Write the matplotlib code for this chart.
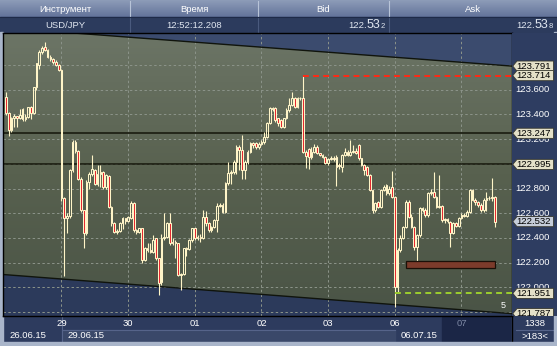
import matplotlib
matplotlib.use('Agg')
import matplotlib.pyplot as plt
import numpy as np
from matplotlib.patches import Polygon, Rectangle
from matplotlib.colors import LinearSegmentedColormap
import matplotlib.transforms as mtransforms

plt.rcParams['font.family'] = ['Liberation Sans', 'DejaVu Sans']

# ---------------- data (hourly USD/JPY bars) ----------------
opens = [123.544, 123.409, 123.274, 123.368, 123.385, 123.370, 123.440, 123.360, 123.382, 123.457,
         123.409, 123.619, 123.800, 123.908, 123.948, 123.921, 123.867, 123.850, 123.825, 123.800,
         123.760, 122.720, 122.560, 122.580, 122.950, 123.179, 123.100, 122.880, 122.626, 122.437,
         122.855, 122.920, 122.950, 122.840, 122.920, 122.930, 122.815, 122.900, 122.653, 122.518,
         122.450, 122.460, 122.518, 122.558, 122.540, 122.560, 122.680, 122.464, 122.450, 122.477,
         122.221, 122.316, 122.300, 122.290, 122.396, 122.235, 122.040, 122.400, 122.410, 122.518,
         122.356, 122.370, 122.356, 122.100, 122.110, 122.316, 122.310, 122.383, 122.477, 122.396,
         122.410, 122.400, 122.572, 122.518, 122.464, 122.491, 122.545, 122.660, 122.670, 122.612,
         122.842, 122.923, 122.936, 123.017, 123.139, 123.112, 122.950, 123.017, 123.098, 123.166,
         123.170, 123.140, 123.160, 123.180, 123.220, 123.328, 123.449, 123.449, 123.368, 123.355,
         123.300, 123.368, 123.436, 123.476, 123.530, 123.463, 123.530, 123.530, 123.098, 123.120,
         123.058, 123.098, 123.139, 123.085, 123.070, 123.058, 123.004, 123.040, 123.050, 123.058,
         122.990, 122.977, 123.070, 123.098, 123.070, 123.098, 123.100, 123.152, 123.044, 122.990,
         122.977, 122.909, 122.788, 122.626, 122.690, 122.653, 122.788, 122.830, 122.761, 122.815,
         122.734, 122.005, 122.302, 122.400, 122.490, 122.693, 122.572, 122.491, 122.329, 122.423,
         122.639, 122.626, 122.585, 122.761, 122.774, 122.734, 122.653, 122.660, 122.545, 122.550,
         122.532, 122.437, 122.518, 122.500, 122.558, 122.585, 122.580, 122.612, 122.788, 122.707,
         122.693, 122.666, 122.626, 122.707, 122.720, 122.720, 122.730]
highs = [123.584, 123.420, 123.380, 123.400, 123.390, 123.440, 123.450, 123.400, 123.460, 123.470,
         123.620, 123.820, 123.920, 123.950, 123.984, 123.930, 123.880, 123.860, 123.840, 123.810,
         123.770, 122.730, 122.600, 122.960, 123.190, 123.190, 123.110, 122.890, 122.630, 122.870,
         122.930, 123.070, 122.960, 122.990, 122.990, 122.940, 122.920, 122.910, 122.660, 122.530,
         122.470, 122.530, 122.570, 122.560, 122.580, 122.700, 122.690, 122.470, 122.480, 122.480,
         122.330, 122.360, 122.360, 122.420, 122.400, 122.240, 122.430, 122.600, 122.530, 122.600,
         122.400, 122.380, 122.360, 122.120, 122.320, 122.330, 122.390, 122.480, 122.480, 122.420,
         122.430, 122.630, 122.620, 122.530, 122.500, 122.550, 122.680, 122.680, 122.680, 122.850,
         123.017, 122.950, 123.030, 123.150, 123.150, 123.233, 123.030, 123.110, 123.180, 123.180,
         123.180, 123.180, 123.190, 123.260, 123.340, 123.460, 123.460, 123.460, 123.370, 123.360,
         123.370, 123.450, 123.530, 123.584, 123.540, 123.540, 123.540, 123.714, 123.110, 123.130,
         123.140, 123.160, 123.150, 123.090, 123.080, 123.060, 123.050, 123.060, 123.060, 123.070,
         123.010, 123.080, 123.130, 123.110, 123.190, 123.150, 123.130, 123.160, 123.050, 123.000,
         122.980, 122.920, 122.790, 122.690, 122.700, 122.800, 122.830, 122.840, 122.820, 122.940,
         122.740, 122.320, 122.420, 122.500, 122.710, 122.710, 122.590, 122.500, 122.430, 122.650,
         122.650, 122.640, 122.770, 122.800, 122.936, 122.740, 122.910, 122.670, 122.560, 122.560,
         122.540, 122.530, 122.530, 122.570, 122.600, 122.600, 122.630, 122.800, 122.800, 122.720,
         122.700, 122.680, 122.720, 122.774, 122.740, 122.882, 122.740]
lows = [123.395, 123.225, 123.260, 123.300, 123.300, 123.360, 123.350, 123.350, 123.370, 123.360,
        123.400, 123.600, 123.770, 123.890, 123.910, 123.860, 123.830, 123.810, 123.790, 123.750,
        122.700, 122.094, 122.440, 122.560, 122.930, 123.090, 122.870, 122.610, 122.316, 122.420,
        122.800, 122.900, 122.830, 122.820, 122.810, 122.800, 122.800, 122.640, 122.500, 122.440,
        122.430, 122.450, 122.470, 122.510, 122.530, 122.550, 122.450, 122.430, 122.440, 122.200,
        122.210, 122.290, 122.280, 122.280, 122.220, 121.938, 122.020, 122.380, 122.400, 122.340,
        122.340, 122.240, 122.090, 121.978, 122.100, 122.250, 122.300, 122.370, 122.380, 122.380,
        122.370, 122.390, 122.500, 122.450, 122.450, 122.480, 122.450, 122.650, 122.600, 122.600,
        122.830, 122.840, 122.920, 122.920, 122.950, 122.880, 122.880, 123.000, 123.090, 123.130,
        123.120, 123.120, 123.150, 123.160, 123.210, 123.320, 123.430, 123.340, 123.310, 123.290,
        123.290, 123.360, 123.420, 123.470, 123.450, 123.450, 123.520, 123.090, 122.963, 122.960,
        123.040, 123.090, 123.080, 123.060, 123.050, 123.000, 122.990, 123.030, 123.020, 122.820,
        122.960, 122.930, 123.060, 123.060, 123.060, 123.090, 123.080, 123.030, 122.980, 122.910,
        122.900, 122.780, 122.600, 122.610, 122.640, 122.640, 122.780, 122.750, 122.750, 122.720,
        121.840, 121.960, 122.290, 122.390, 122.480, 122.560, 122.480, 122.300, 122.190, 122.410,
        122.610, 122.570, 122.570, 122.750, 122.720, 122.640, 122.640, 122.530, 122.520, 122.520,
        122.329, 122.430, 122.490, 122.490, 122.550, 122.570, 122.570, 122.600, 122.700, 122.670,
        122.650, 122.610, 122.610, 122.620, 122.710, 122.700, 122.491]
closes = [123.409, 123.274, 123.368, 123.385, 123.370, 123.395, 123.360, 123.382, 123.457, 123.409,
          123.619, 123.813, 123.908, 123.935, 123.921, 123.867, 123.850, 123.825, 123.800, 123.760,
          122.720, 122.560, 122.580, 122.950, 123.179, 123.100, 122.880, 122.626, 122.437, 122.855,
          122.920, 122.960, 122.840, 122.920, 122.930, 122.815, 122.910, 122.653, 122.518, 122.450,
          122.460, 122.518, 122.558, 122.540, 122.570, 122.680, 122.464, 122.450, 122.477, 122.221,
          122.316, 122.300, 122.290, 122.383, 122.235, 122.032, 122.400, 122.410, 122.518, 122.356,
          122.370, 122.356, 122.100, 122.110, 122.316, 122.310, 122.383, 122.477, 122.396, 122.410,
          122.400, 122.572, 122.518, 122.464, 122.491, 122.545, 122.660, 122.670, 122.612, 122.842,
          122.923, 122.936, 123.017, 123.139, 123.112, 122.950, 123.017, 123.098, 123.166, 123.152,
          123.140, 123.160, 123.180, 123.220, 123.328, 123.449, 123.440, 123.355, 123.330, 123.300,
          123.368, 123.436, 123.476, 123.530, 123.463, 123.530, 123.530, 123.098, 123.060, 123.058,
          123.098, 123.139, 123.085, 123.070, 123.058, 123.004, 123.040, 123.050, 123.040, 122.977,
          122.980, 123.070, 123.098, 123.070, 123.098, 123.100, 123.090, 123.044, 122.990, 122.950,
          122.909, 122.788, 122.626, 122.680, 122.653, 122.788, 122.815, 122.761, 122.800, 122.734,
          122.005, 122.302, 122.400, 122.490, 122.693, 122.572, 122.491, 122.329, 122.423, 122.639,
          122.626, 122.585, 122.761, 122.774, 122.734, 122.653, 122.660, 122.545, 122.550, 122.535,
          122.437, 122.518, 122.500, 122.558, 122.585, 122.580, 122.612, 122.788, 122.707, 122.690,
          122.666, 122.626, 122.707, 122.720, 122.722, 122.730, 122.532]

day_labels = ['29', '30', '01', '02', '03', '06', '07']
day_start = [20, 44, 68, 92, 116, 140, 164]
date_labels = ['26.06.15', '29.06.15', '06.07.15']
date_start = [-1, 20, 140]
price_ticks = [121.8, 122.0, 122.2, 122.4, 122.6, 122.8, 123.0, 123.2, 123.4, 123.6, 123.8]
channel_top = [124.102, 123.791]
channel_bottom = [122.104, 121.787]
solid_levels = [123.247, 122.995]
red_level, red_start = 123.714, 107
green_level, green_start = 121.951, 140
zone = (144, 176, 122.16, 122.21)
bid, ask = 122.532, 122.538
header_cols = ['Инструмент', 'Время', 'Bid', 'Ask']
symbol, quote_time = 'USD/JPY', '12:52:12.208'

# ---------------- layout ----------------
W, H = 557, 346
fig = plt.figure(figsize=(W / 100, H / 100), dpi=100)
fig.patch.set_facecolor('#2d3b5e')

def rect(x0, y0, x1, y1):
    return [x0 / W, 1 - y1 / H, (x1 - x0) / W, (y1 - y0) / H]

NAVY = '#2d3b5e'
CREAM = '#fff5c8'
BORDER = '#a9b5ca'

bg = fig.add_axes([0, 0, 1, 1])
bg.set_xlim(0, W); bg.set_ylim(H, 0); bg.axis('off'); bg.set_zorder(0)
bg.add_patch(Rectangle((0, 0), W, H, color=NAVY))
# header row 1 gradient
grad = np.linspace(0, 1, 50).reshape(-1, 1)
hcmap = LinearSegmentedColormap.from_list('h', ['#8d9cb8', '#63739a'])
bg.imshow(grad, extent=[0, W, 17, 0], cmap=hcmap, aspect='auto', zorder=1)
bg.add_patch(Rectangle((0, 17), W, 15, color='#2c3b5d', zorder=1))
for xs in [130, 258, 389]:
    bg.plot([xs, xs], [1, 17], color='#b8c4d8', lw=0.8, zorder=2)
    bg.plot([xs, xs], [17, 32], color='#4a5a7e', lw=0.8, zorder=2)
bg.plot([0, W], [17, 17], color='#1e2a48', lw=0.8, zorder=2)
for lab, cx in zip(header_cols, [65, 194, 323, 473]):
    bg.text(cx, 9, lab, color='white', fontsize=6.8, ha='center', va='center', zorder=3)
bg.text(65, 25, symbol, color='#e0e6f0', fontsize=6.8, ha='center', va='center', zorder=3)
bg.text(194, 25, quote_time, color='#e0e6f0', fontsize=6.8, ha='center', va='center', zorder=3)

def quote(val, xr):
    s = f'{val:.3f}'
    t3 = bg.text(xr, 26, s[-1], color='#e0e6f0', fontsize=5.5, ha='right', va='center', zorder=3)
    bg.text(xr - 5, 25, s[-3:-1], color='#e0e6f0', fontsize=9, ha='right', va='center', zorder=3)
    bg.text(xr - 18, 25.5, s[:-3], color='#e0e6f0', fontsize=6.8, ha='right', va='center', zorder=3)

quote(bid, 385)
quote(ask, 553)

# bottom area
bg.add_patch(Rectangle((62, 330), 333, 12, color='#3a4869', zorder=1))
bg.plot([62, 395], [330, 330], color='#56648a', lw=0.8, zorder=2)
bg.plot([62, 62], [316, 342], color='#56648a', lw=0.8, zorder=2)
bg.add_patch(Rectangle((442, 317), 68, 25, color='#1b2646', zorder=1))
bg.plot([512, 512], [316, 342], color='black', lw=1, zorder=2)
bg.plot([516, 553], [330, 330], color='#56648a', lw=0.8, zorder=2)
bg.text(535, 323.5, '1338', color='white', fontsize=6.8, ha='center', va='center', zorder=3)
bg.text(535, 336.5, '>183<', color='white', fontsize=6.8, ha='center', va='center', zorder=3)
# outer borders
bg.add_patch(Rectangle((0, 342), W, 4, color=BORDER, zorder=4))
bg.add_patch(Rectangle((0, 32), 3, 312, color=BORDER, zorder=4))
bg.add_patch(Rectangle((554, 32), 3, 312, color=BORDER, zorder=4))

# ---------------- main chart ----------------
ax = fig.add_axes(rect(3, 32.5, 512, 316))
ax.set_zorder(2)
n = len(opens)
x = np.arange(n)
XL, XR = -1.06, 182.2
YB, YT = 121.768, 124.063
ax.set_facecolor('#2e3c5e')

# region above channel (lighter navy)
ax.fill_between([XL, XR], channel_top, [YT, YT], color='#3b4b6e', zorder=0)
ax.fill_between([XL, XR], [YB, YB], channel_bottom, color='#2c3a5b', zorder=0)
cmap = LinearSegmentedColormap.from_list('g', ['#4a5446', '#58614f', '#6c7566'])
gimg = np.linspace(0, 1, 200).reshape(-1, 1)
im = ax.imshow(gimg, extent=[XL, XR, YB, YT], origin='lower', cmap=cmap, aspect='auto', zorder=0.5)
poly = Polygon([[XL, channel_top[0]], [XR, channel_top[1]], [XR, channel_bottom[1]], [XL, channel_bottom[0]]],
               closed=True, transform=ax.transData, facecolor='none', edgecolor='none')
ax.add_patch(poly)
im.set_clip_path(poly)
ax.plot([XL, XR], channel_top, color='#10140c', lw=1.0, zorder=1)
ax.plot([XL, XR], channel_bottom, color='#10140c', lw=1.0, zorder=1)

# grid
for p in price_ticks:
    ax.axhline(p, color='#8c948a', lw=0.7, ls=(0, (2.5, 2.5)), zorder=0.8)
for d in day_start:
    ax.axvline(d, color='#8c948a', lw=0.7, ls=(0, (2.5, 2.5)), zorder=0.8)

for lv in solid_levels:
    ax.axhline(lv, color='#14160a', lw=1.1, zorder=1)

# candles
o = np.array(opens); c = np.array(closes); hi = np.array(highs); lo = np.array(lows)
top = np.maximum(o, c); bot = np.minimum(o, c)
ax.vlines(x, top, hi, color=CREAM, lw=0.8, zorder=3)
ax.vlines(x, lo, bot, color=CREAM, lw=0.8, zorder=3)
body_h = np.maximum(top - bot, 0.006)
face = ['none' if cc >= oo else '#e4202a' for oo, cc in zip(o, c)]
ax.bar(x, body_h, bottom=bot, width=0.62, color=face, edgecolor=CREAM, linewidth=0.75, zorder=4)

# levels
ax.plot([red_start, XR], [red_level, red_level], color='#ff2a14', lw=1.4, ls=(0, (3, 2.2)), zorder=5)
ax.plot([green_start, XR], [green_level, green_level], color='#9ccf2e', lw=1.4, ls=(0, (3, 2.2)), zorder=5)
ax.add_patch(Rectangle((zone[0], zone[2]), zone[1] - zone[0], zone[3] - zone[2],
                       facecolor='#7c3b2b', edgecolor='#1a1008', lw=0.9, zorder=5))
ax.text(179, 121.85, '5', color='white', fontsize=6.5, ha='center', va='center', zorder=6)

ax.set_xlim(XL, XR)
ax.set_ylim(YB, YT)
ax.set_xticks([]); ax.set_yticks([])
for s in ax.spines.values():
    s.set_color('black'); s.set_linewidth(1.0)

# day labels
trans = mtransforms.blended_transform_factory(ax.transData, bg.transData)
for lab, d in zip(day_labels, day_start):
    col = '#7d88a4' if lab == day_labels[-1] else 'white'
    ax.text(d, 324, lab, transform=trans, color=col, fontsize=6.8, ha='center', va='center', clip_on=False)
for lab, d in zip(date_labels, date_start):
    ax.text(d + 2.2, 336, lab, transform=trans, color='white', fontsize=6.8, ha='left', va='center', clip_on=False)

# ---------------- right price scale ----------------
rax = fig.add_axes(rect(512, 32.5, 557, 316))
rax.set_zorder(3)
rax.set_xlim(0, 45); rax.set_ylim(YB, YT)
rax.axis('off')
rax.add_patch(Rectangle((0, YB), 45, YT - YB, color='#2e3d61', zorder=0))
for p in price_ticks:
    rax.text(3.5, p, f'{p:.3f}', color='white', fontsize=6.8, ha='left', va='center', zorder=1)

hh = 0.041
def tag(val, fc):
    pts = [[0.8, val], [5, val + hh], [41.5, val + hh], [41.5, val - hh], [5, val - hh]]
    rax.add_patch(Polygon(pts, closed=True, facecolor=fc, edgecolor='#3a3a30', lw=0.6, zorder=2))
    rax.text(4.6, val, f'{val:.3f}', color='black', fontsize=6.8, ha='left', va='center', zorder=3)

for v in [channel_top[1], red_level, solid_levels[0], solid_levels[1], green_level, channel_bottom[1]]:
    tag(v, '#e4e0c8')
tag(bid, '#c6cdd9')

fig.savefig('out.png', dpi=100, facecolor=fig.get_facecolor())
